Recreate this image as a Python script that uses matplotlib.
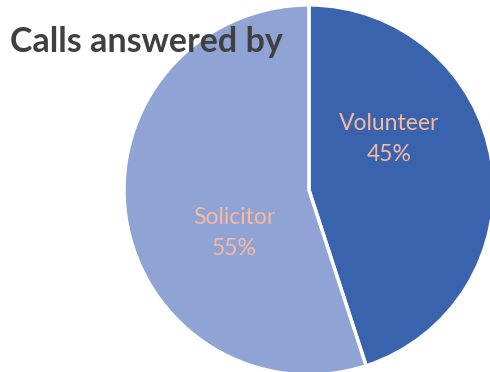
import matplotlib.pyplot as plt

labels = ["Volunteer", "Solicitor"]
shares = [45, 55]
colors = ["#3A63AD", "#8FA4D4"]
# label anchor points inside each wedge (axes data units, radius = 1)
label_pos = [(0.435, 0.275), (-0.405, -0.235)]

fig = plt.figure(figsize=(4.9, 3.72), dpi=100)
ax = fig.add_axes([0.253, -0.008, 0.755, 0.995])

ax.pie(shares, colors=colors, startangle=90, counterclock=False,
       wedgeprops=dict(edgecolor="white", linewidth=2.5))
ax.set_xlim(-1, 1)
ax.set_ylim(-1, 1)
ax.set_aspect("equal")
ax.axis("off")

for name, val, (x, y) in zip(labels, shares, label_pos):
    ax.text(x, y, f"{name}\n{val}%", ha="center", va="center",
            fontsize=16.5, color="#F7B9A2", family="Lato", linespacing=1.6)

fig.text(0.02, 0.887, "Calls answered by", fontsize=24.5, fontweight="bold",
         family="Lato", color="#404040", ha="left", va="center")

fig.savefig("out.png", dpi=100)
